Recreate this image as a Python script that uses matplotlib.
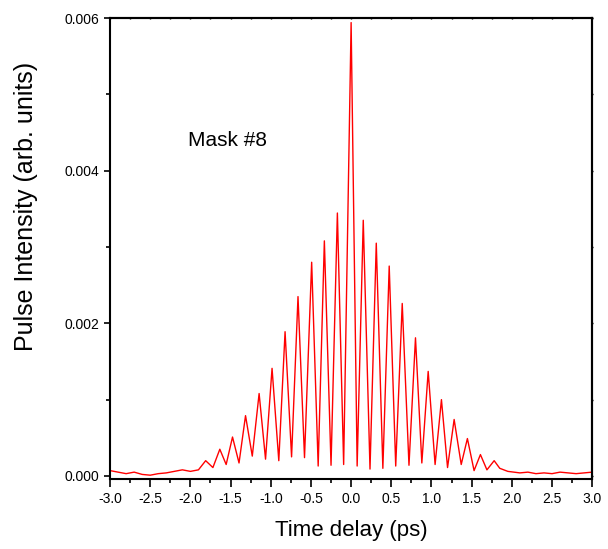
import matplotlib
matplotlib.use("Agg")
import matplotlib.pyplot as plt
from matplotlib.ticker import MultipleLocator, FormatStrFormatter

plt.rcParams['font.family'] = ['Liberation Sans Narrow', 'Liberation Sans', 'DejaVu Sans']

# trace vertices: baseline, peaks and troughs (ps, arb. units)
t_ps = [-3.0, -2.9, -2.8, -2.7, -2.6, -2.5, -2.4, -2.3, -2.2, -2.1, -2.0, -1.9,
        -1.81, -1.72, -1.634, -1.555, -1.476, -1.395, -1.314, -1.23, -1.145, -1.065,
        -0.984, -0.90, -0.822, -0.741, -0.661, -0.58, -0.491, -0.41, -0.333, -0.25,
        -0.171, -0.093, 0.0, 0.075, 0.151, 0.235, 0.313, 0.395, 0.474, 0.555,
        0.636, 0.72, 0.801, 0.88, 0.959, 1.045, 1.124, 1.20, 1.282, 1.37,
        1.447, 1.53, 1.609, 1.69, 1.78, 1.85, 1.95, 2.1, 2.2, 2.3, 2.4, 2.5,
        2.6, 2.7, 2.8, 2.9, 3.0]
intensity = [0.00007, 0.00005, 0.00003, 0.00005, 0.00002, 0.00001, 0.00003, 0.00004,
             0.00006, 0.00008, 0.00006, 0.00008,
             0.00020, 0.00011, 0.00035, 0.00015, 0.00051, 0.00017, 0.00079, 0.00026,
             0.00108, 0.00022, 0.00141, 0.00020, 0.00189, 0.00025, 0.00235, 0.00024,
             0.00280, 0.00013, 0.00308, 0.00014, 0.003445, 0.00015, 0.00594, 0.00013,
             0.00335, 0.00009, 0.00305, 0.00010, 0.00275, 0.00013, 0.00226, 0.00014,
             0.00181, 0.00017, 0.00137, 0.00015, 0.00100, 0.00011, 0.00074, 0.00015,
             0.00049, 0.00007, 0.00028, 0.00008, 0.00020, 0.00010, 0.00006, 0.00004,
             0.00005, 0.00003, 0.00004, 0.00003, 0.00005, 0.00004, 0.00003, 0.00004,
             0.00005]

fig = plt.figure(figsize=(6.08, 5.49), dpi=100)
ax = fig.add_axes([0.181, 0.1275, 0.793, 0.8397])

ax.plot(t_ps, intensity, color="red", lw=1.0)

ax.set_xlim(-3.0, 3.0)
ax.set_ylim(-0.00004, 0.006)
ax.xaxis.set_major_locator(MultipleLocator(0.5))
ax.xaxis.set_minor_locator(MultipleLocator(0.25))
ax.yaxis.set_major_locator(MultipleLocator(0.002))
ax.yaxis.set_minor_locator(MultipleLocator(0.001))
ax.xaxis.set_major_formatter(FormatStrFormatter("%.1f"))
ax.yaxis.set_major_formatter(FormatStrFormatter("%.3f"))

ax.tick_params(which="both", direction="out", labelsize=10, width=1.2)
ax.tick_params(axis="x", which="major", length=6)
ax.tick_params(axis="x", which="minor", length=3)
ax.tick_params(axis="y", which="major", length=4)
ax.tick_params(axis="y", which="minor", length=3)
for s in ax.spines.values():
    s.set_linewidth(1.5)

# tiny ticks on the top and right frame
top = ax.secondary_xaxis("top")
top.xaxis.set_major_locator(MultipleLocator(0.25))
top.tick_params(direction="inout", length=2, width=1, labeltop=False)
right = ax.secondary_yaxis("right")
right.yaxis.set_major_locator(MultipleLocator(0.001))
right.tick_params(direction="inout", length=2, width=1, labelright=False)
for sec in (top, right):
    for s in sec.spines.values():
        s.set_linewidth(1.5)

ax.set_xlabel("Time delay (ps)", fontsize=16, labelpad=10)
ax.set_ylabel("Pulse Intensity (arb. units)", fontsize=18)
ax.yaxis.set_label_coords(-0.15, 0.592)
ax.text(-2.03, 0.00432, "Mask #8", fontsize=15)

fig.savefig("out.png", dpi=100)
